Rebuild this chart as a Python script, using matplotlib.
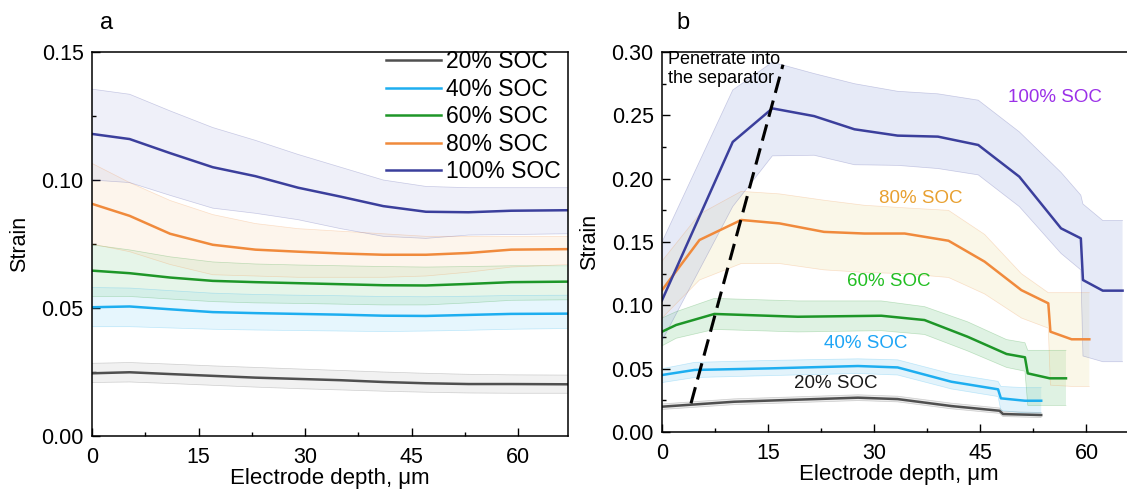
import matplotlib
matplotlib.use("Agg")
import matplotlib.pyplot as plt
from matplotlib.ticker import MultipleLocator, FormatStrFormatter

plt.rcParams['font.family'] = ['Liberation Sans', 'DejaVu Sans']

# ---- panel a: strain vs depth, mean and spread per SOC ----
depth_a = [0, 5.3, 11, 17, 23, 29, 35, 41, 47, 53, 59, 67]

soc100_a = [0.118, 0.116, 0.1105, 0.105, 0.1015, 0.097, 0.0935, 0.0898, 0.0876, 0.0874, 0.088, 0.0882]
soc100_a_hi = [0.1355, 0.1335, 0.127, 0.1205, 0.1155, 0.110, 0.105, 0.100, 0.0975, 0.097, 0.097, 0.097]
soc100_a_lo = [0.100, 0.099, 0.094, 0.089, 0.087, 0.0845, 0.081, 0.078, 0.0772, 0.0785, 0.0787, 0.079]

soc80_a = [0.0907, 0.086, 0.079, 0.0747, 0.0728, 0.072, 0.0713, 0.0708, 0.0708, 0.0715, 0.0728, 0.073]
soc80_a_hi = [0.1065, 0.099, 0.092, 0.0865, 0.083, 0.081, 0.080, 0.079, 0.078, 0.078, 0.078, 0.078]
soc80_a_lo = [0.075, 0.072, 0.067, 0.063, 0.0625, 0.062, 0.062, 0.062, 0.0625, 0.064, 0.066, 0.067]

soc60_a = [0.0646, 0.0636, 0.0619, 0.0606, 0.0601, 0.0597, 0.0593, 0.0589, 0.0588, 0.0594, 0.0601, 0.0603]
soc60_a_hi = [0.0747, 0.0727, 0.070, 0.068, 0.0672, 0.0668, 0.0665, 0.0662, 0.066, 0.0662, 0.0665, 0.0665]
soc60_a_lo = [0.0545, 0.0545, 0.0535, 0.0525, 0.052, 0.0518, 0.0515, 0.0512, 0.0512, 0.052, 0.053, 0.0532]

soc40_a = [0.0503, 0.0506, 0.0495, 0.0484, 0.048, 0.0477, 0.0474, 0.047, 0.0469, 0.0473, 0.0477, 0.0478]
soc40_a_hi = [0.058, 0.0578, 0.0568, 0.0558, 0.0553, 0.055, 0.0548, 0.0545, 0.0544, 0.0546, 0.0549, 0.055]
soc40_a_lo = [0.0427, 0.0427, 0.0422, 0.0417, 0.0414, 0.0412, 0.041, 0.0408, 0.041, 0.0413, 0.0417, 0.042]

soc20_a = [0.0245, 0.0249, 0.0242, 0.0235, 0.0228, 0.0223, 0.0218, 0.0211, 0.0206, 0.0203, 0.0203, 0.0202]
soc20_a_hi = [0.0284, 0.0287, 0.0281, 0.0274, 0.0268, 0.0262, 0.0256, 0.025, 0.0245, 0.0241, 0.0239, 0.0238]
soc20_a_lo = [0.0209, 0.0211, 0.0205, 0.0198, 0.0191, 0.0185, 0.018, 0.0175, 0.0171, 0.0168, 0.0167, 0.0167]

# ---- panel b ----
depth100_b = [0, 10, 15.6, 21.5, 27.2, 33.3, 39, 44.7, 50.5, 56.4, 59.2, 59.5, 62.3, 65.1]
soc100_b = [0.104, 0.229, 0.2555, 0.2494, 0.239, 0.234, 0.2332, 0.2266, 0.2016, 0.1608, 0.1529, 0.120, 0.1116, 0.1116]
soc100_b_hi = [0.15, 0.27, 0.292, 0.283, 0.275, 0.269, 0.267, 0.262, 0.237, 0.205, 0.187, 0.18, 0.167, 0.167]
soc100_b_lo = [0.072, 0.178, 0.218, 0.2185, 0.211, 0.2105, 0.208, 0.203, 0.178, 0.141, 0.128, 0.06, 0.0555, 0.0555]

depth80_b = [0, 5.3, 11.2, 16.6, 22.9, 28.6, 34.3, 40.5, 45.6, 50.8, 54.6, 54.9, 57.9, 60.4]
soc80_b = [0.112, 0.1516, 0.1674, 0.1647, 0.158, 0.1567, 0.1567, 0.151, 0.1345, 0.112, 0.1016, 0.0792, 0.0732, 0.0732]
soc80_b_hi = [0.135, 0.172, 0.19, 0.188, 0.183, 0.179, 0.177, 0.175, 0.156, 0.125, 0.11, 0.11, 0.11, 0.11]
soc80_b_lo = [0.09, 0.12, 0.133, 0.133, 0.128, 0.126, 0.125, 0.122, 0.109, 0.09, 0.082, 0.037, 0.036, 0.036]

depth60_b = [0, 2.0, 7.4, 19.2, 31.0, 37.1, 43.2, 48.7, 51.3, 51.7, 54.8, 57.1]
soc60_b = [0.0792, 0.0845, 0.0932, 0.091, 0.0918, 0.0884, 0.0752, 0.0616, 0.059, 0.0463, 0.0424, 0.0424]
soc60_b_hi = [0.09, 0.095, 0.1055, 0.1035, 0.1035, 0.099, 0.087, 0.073, 0.0705, 0.0645, 0.0645, 0.0645]
soc60_b_lo = [0.068, 0.074, 0.081, 0.079, 0.080, 0.077, 0.064, 0.051, 0.048, 0.021, 0.021, 0.021]

depth40_b = [0, 4.6, 15.0, 27.7, 33.3, 40.9, 47.5, 47.9, 51.3, 53.6]
soc40_b = [0.045, 0.049, 0.0502, 0.0521, 0.051, 0.0397, 0.0337, 0.0266, 0.0247, 0.0247]
soc40_b_hi = [0.05, 0.055, 0.0565, 0.0578, 0.057, 0.046, 0.040, 0.036, 0.035, 0.035]
soc40_b_lo = [0.039, 0.043, 0.0445, 0.0462, 0.045, 0.034, 0.028, 0.017, 0.015, 0.015]

depth20_b = [0, 10.2, 27.7, 33.3, 40.9, 47.7, 48.2, 53.6]
soc20_b = [0.020, 0.0239, 0.0271, 0.026, 0.0205, 0.0168, 0.0142, 0.0134]
soc20_b_hi = [0.0222, 0.0262, 0.0294, 0.0283, 0.0228, 0.019, 0.0162, 0.0154]
soc20_b_lo = [0.0178, 0.0216, 0.0248, 0.0238, 0.0183, 0.0147, 0.0122, 0.0114]

# dashed "penetrate into the separator" guide
guide_x = [4.1, 17.1]
guide_y = [0.0226, 0.290]

labels = ['20% SOC', '40% SOC', '60% SOC', '80% SOC', '100% SOC']
line_colors = ['#505050', '#1EAEF0', '#1E9628', '#F08A3C', '#3B3F9C']
fill_a = ['#D0D0D0', '#A6E0F8', '#A8DDB2', '#FBDDBB', '#C6CAEC']
fill_b = ['#BDBDBD', '#A2DAF4', '#98D6A3', '#EFE6B4', '#AFBCE6']
text_b_colors = ['#1A1A1A', '#1EA5F5', '#22BE22', '#E8A030', '#9B30E8']

fig = plt.figure(figsize=(11.27, 4.93), dpi=100)
ax_a = fig.add_axes([0.0816, 0.1156, 0.4224, 0.7789])
ax_b = fig.add_axes([0.5874, 0.1237, 0.4206, 0.7708])


def style_axis(ax, ymax):
    ax.set_xlim(0, 67)
    ax.set_ylim(0, ymax)
    ax.xaxis.set_major_locator(MultipleLocator(15))
    ax.xaxis.set_minor_locator(MultipleLocator(7.5))
    ax.yaxis.set_major_locator(MultipleLocator(0.05))
    ax.yaxis.set_minor_locator(MultipleLocator(0.025))
    ax.yaxis.set_major_formatter(FormatStrFormatter('%.2f'))
    ax.tick_params(which='both', direction='in', top=False, right=False,
                   labelsize=15.5, width=1.0)
    ax.tick_params(axis='x', pad=8)
    ax.tick_params(axis='y', pad=6)
    ax.tick_params(which='major', length=5.5)
    ax.tick_params(which='minor', length=3)
    for sp in ax.spines.values():
        sp.set_linewidth(1.1)
    ax.set_xlabel('Electrode depth, μm', fontsize=16, labelpad=0)
    ax.set_ylabel('Strain', fontsize=15.5, labelpad=8)


# panel a
series_a = [
    (soc20_a, soc20_a_lo, soc20_a_hi),
    (soc40_a, soc40_a_lo, soc40_a_hi),
    (soc60_a, soc60_a_lo, soc60_a_hi),
    (soc80_a, soc80_a_lo, soc80_a_hi),
    (soc100_a, soc100_a_lo, soc100_a_hi),
]
for i, (m, lo, hi) in enumerate(series_a):
    ax_a.fill_between(depth_a, lo, hi, facecolor=fill_a[i], alpha=0.28, linewidth=0)
    ax_a.plot(depth_a, lo, color=line_colors[i], lw=0.5, alpha=0.25)
    ax_a.plot(depth_a, hi, color=line_colors[i], lw=0.5, alpha=0.25)
for i, (m, lo, hi) in enumerate(series_a):
    ax_a.plot(depth_a, m, color=line_colors[i], lw=1.8, label=labels[i])

style_axis(ax_a, 0.15)
ax_a.legend(loc='upper left', bbox_to_anchor=(0.617, 1.005), frameon=False,
            fontsize=16.5, handlelength=2.4, handletextpad=0.25,
            labelspacing=0.2, borderpad=0, borderaxespad=0)
ax_a.text(0.03, 1.075, 'a', transform=ax_a.transAxes, fontsize=17,
          ha='center', va='center')

# panel b
series_b = [
    (depth20_b, soc20_b, soc20_b_lo, soc20_b_hi),
    (depth40_b, soc40_b, soc40_b_lo, soc40_b_hi),
    (depth60_b, soc60_b, soc60_b_lo, soc60_b_hi),
    (depth80_b, soc80_b, soc80_b_lo, soc80_b_hi),
    (depth100_b, soc100_b, soc100_b_lo, soc100_b_hi),
]
for i, (x, m, lo, hi) in enumerate(series_b):
    ax_b.fill_between(x, lo, hi, facecolor=fill_b[i], alpha=0.3, linewidth=0)
    ax_b.plot(x, lo, color=line_colors[i], lw=0.5, alpha=0.25)
    ax_b.plot(x, hi, color=line_colors[i], lw=0.5, alpha=0.25)
for i, (x, m, lo, hi) in enumerate(series_b):
    ax_b.plot(x, m, color=line_colors[i], lw=1.8)

ax_b.plot(guide_x, guide_y, color='black', lw=2.2, dashes=(5.5, 2.6))

style_axis(ax_b, 0.30)
ax_b.text(0.8, 0.2866, 'Penetrate into\nthe separator', fontsize=13,
          ha='left', va='center', linespacing=1.2)

# series labels next to curves in panel b
label_pos_b = [(24.5, 0.0384), (28.85, 0.070), (32.0, 0.1187), (36.6, 0.1845), (55.6, 0.2637)]
for i, (lx, ly) in enumerate(label_pos_b):
    ax_b.text(lx, ly, labels[i], color=text_b_colors[i], fontsize=13.5,
              ha='center', va='center')
ax_b.text(0.044, 1.076, 'b', transform=ax_b.transAxes, fontsize=17,
          ha='center', va='center')

fig.savefig('out.png', dpi=100)
